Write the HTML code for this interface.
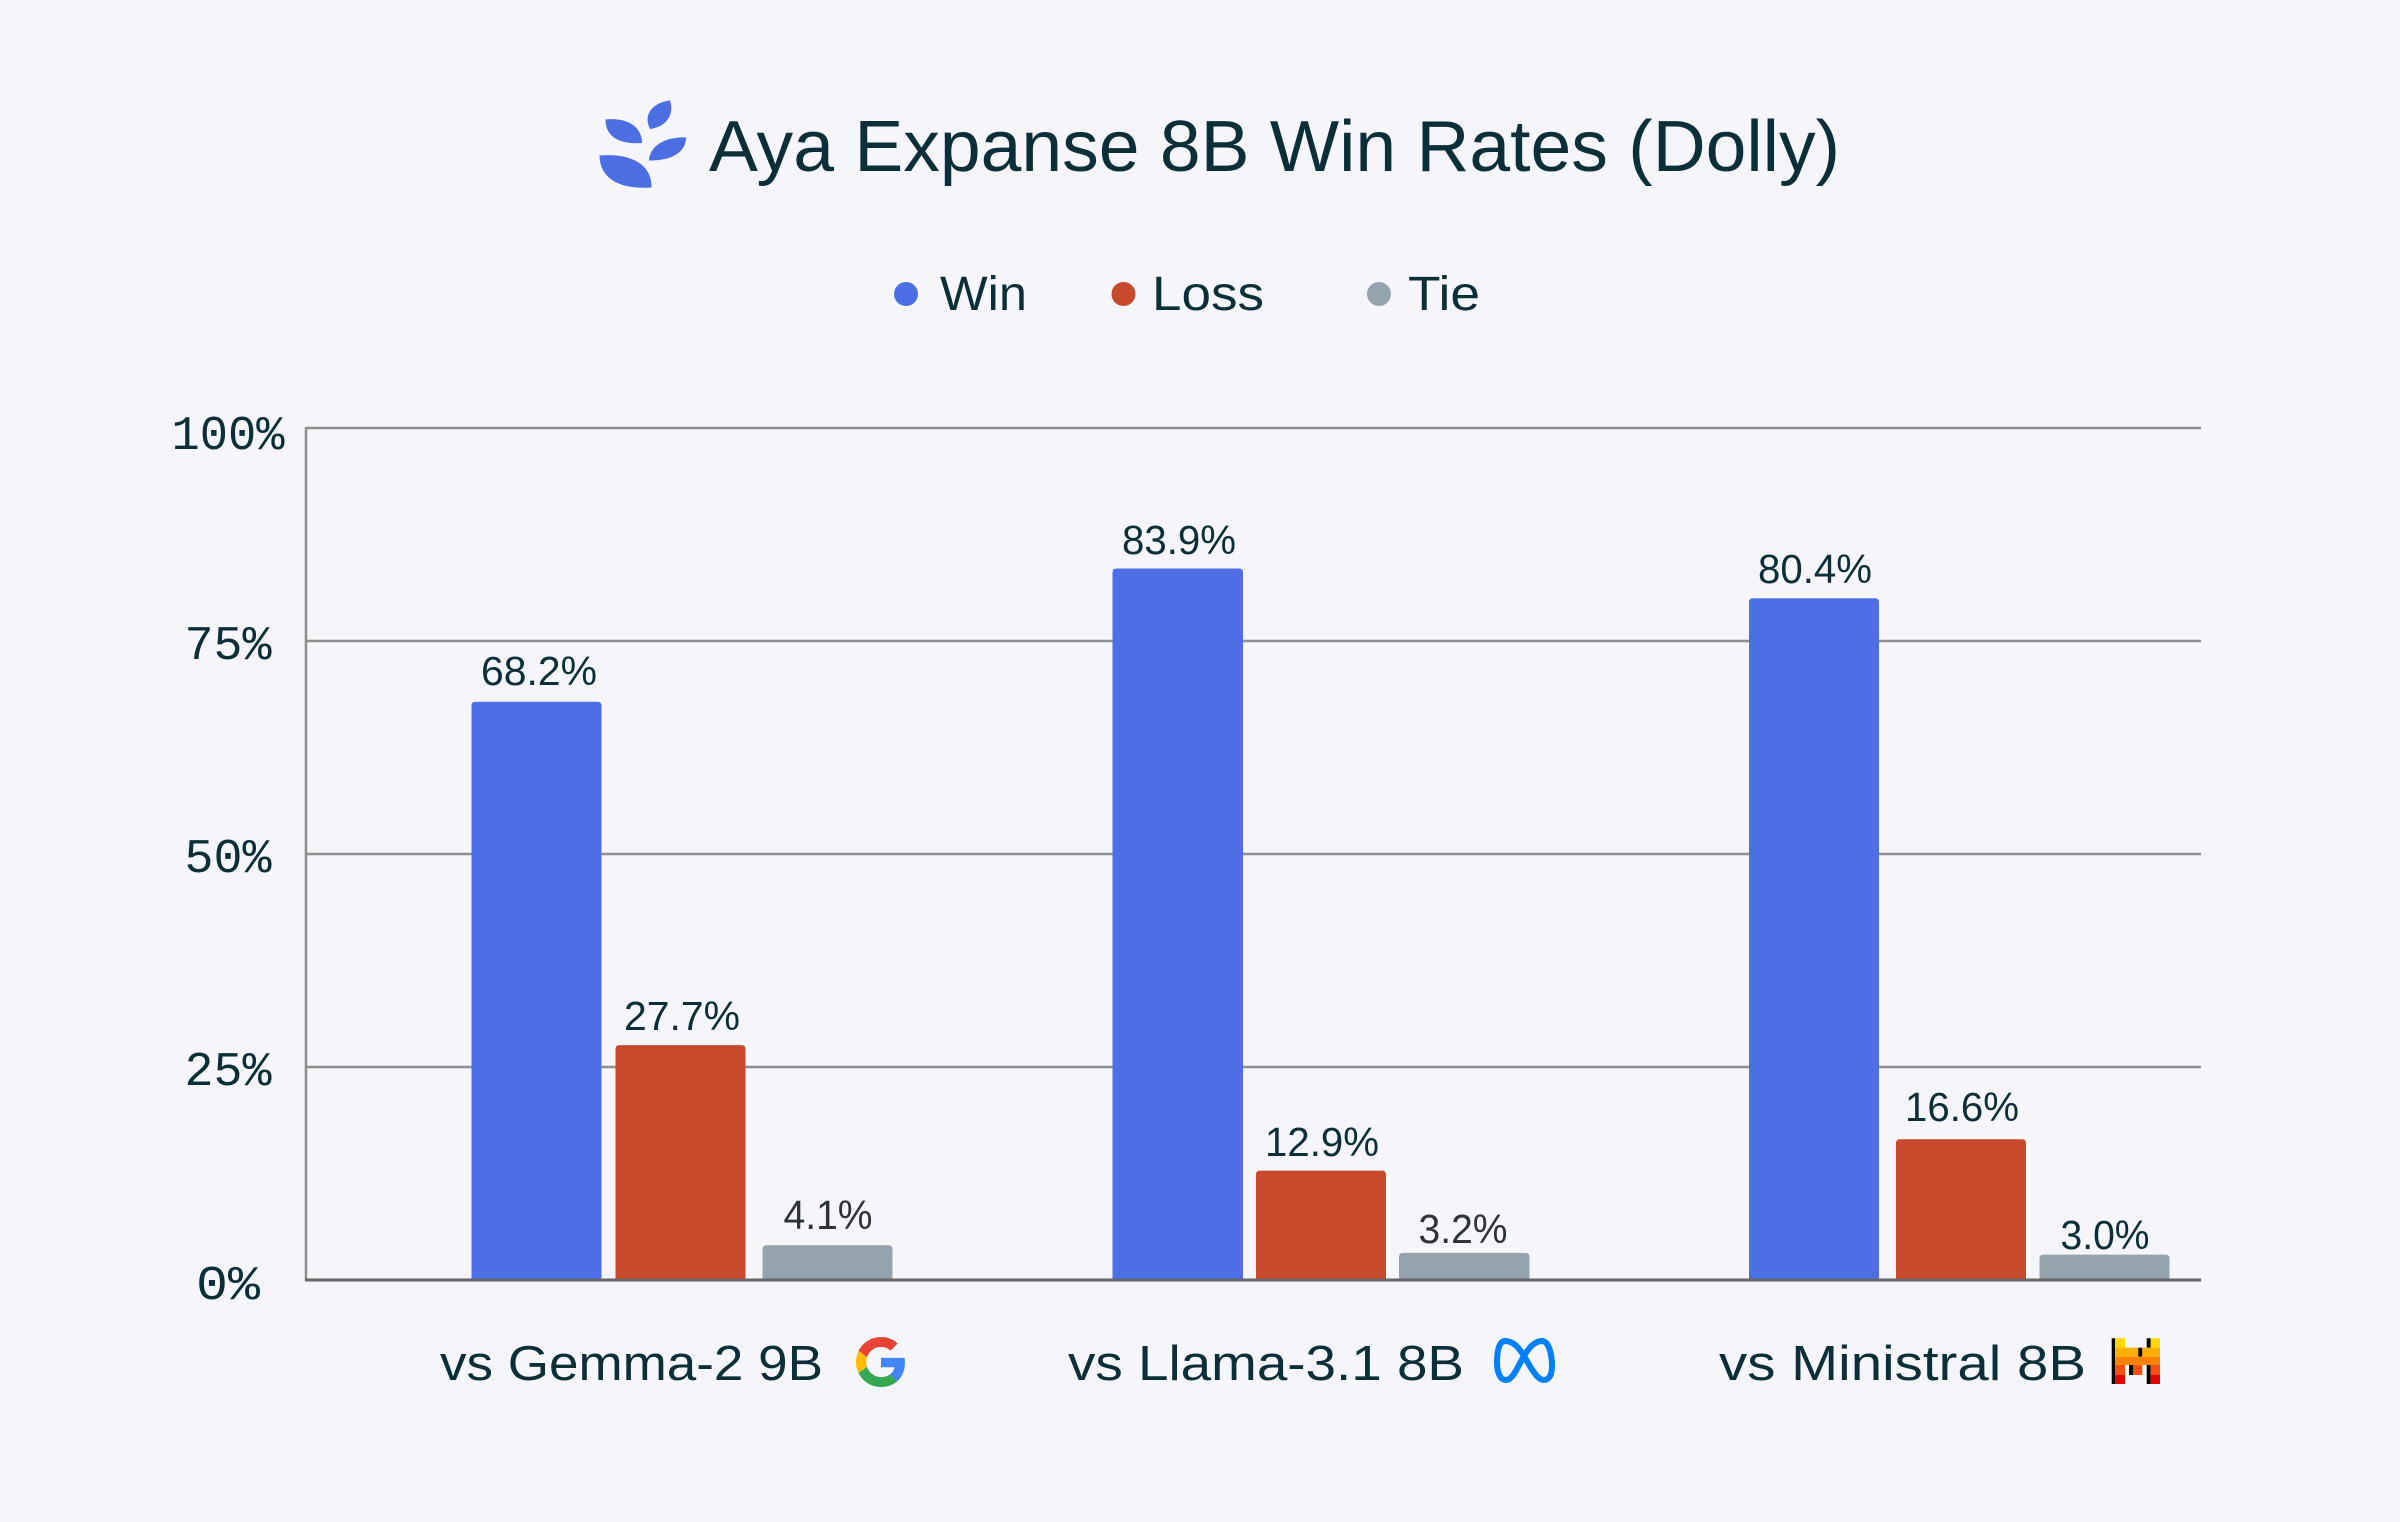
<!DOCTYPE html>
<html>
<head>
<meta charset="utf-8">
<style>
html,body{margin:0;padding:0;background:#f5f5fa;}
svg{display:block;}
</style>
</head>
<body>
<svg width="2400" height="1522" viewBox="0 0 2400 1522" xmlns="http://www.w3.org/2000/svg">
<rect x="0" y="0" width="2400" height="1522" fill="#f5f5fa"/>

<!-- Aya icon -->
<g fill="#4b6fe3">
<path d="M650,129 C642,113 655,102 670,100.5 C675,116 665,127 650,129 Z"/>
<path d="M605.5,119.5 C625,117.5 642,125 642,143 C621,144.5 605.5,138 605.5,119.5 Z"/>
<path d="M649,160.5 C649.5,144.5 668,136.5 686,137.5 C686,153 670,161 649,160.5 Z"/>
<path d="M599.5,155.5 C627,153 652,162 651.5,187.5 C623,189.5 600,181 599.5,155.5 Z"/>
</g>

<!-- Title -->
<text x="709" y="171" font-family="'Liberation Sans', sans-serif" font-size="72" fill="#0b2f38" textLength="1131" lengthAdjust="spacingAndGlyphs">Aya Expanse 8B Win Rates (Dolly)</text>

<!-- Legend -->
<circle cx="906" cy="294" r="12" fill="#4c6fe6"/>
<text x="940" y="310" font-family="'Liberation Sans', sans-serif" font-size="48" fill="#0b2f38" textLength="87" lengthAdjust="spacingAndGlyphs">Win</text>
<circle cx="1123.5" cy="294" r="12" fill="#c84a2d"/>
<text x="1152" y="310" font-family="'Liberation Sans', sans-serif" font-size="48" fill="#0b2f38" textLength="112" lengthAdjust="spacingAndGlyphs">Loss</text>
<circle cx="1379" cy="294" r="12" fill="#94a3ae"/>
<text x="1408" y="310" font-family="'Liberation Sans', sans-serif" font-size="48" fill="#0b2f38" textLength="72" lengthAdjust="spacingAndGlyphs">Tie</text>

<!-- Gridlines -->
<g stroke="#8e8e8e" stroke-width="2.5">
<line x1="306" y1="428" x2="2201" y2="428"/>
<line x1="306" y1="641" x2="2201" y2="641"/>
<line x1="306" y1="854" x2="2201" y2="854"/>
<line x1="306" y1="1067" x2="2201" y2="1067"/>
<line x1="306" y1="427" x2="306" y2="1281"/>
</g>

<!-- Y tick labels -->
<g font-family="'Liberation Mono', monospace" font-size="48" fill="#0b2f38" text-anchor="middle">
<text x="228" y="449" textLength="113" lengthAdjust="spacingAndGlyphs">100%</text>
<text x="228" y="659" textLength="87" lengthAdjust="spacingAndGlyphs">75%</text>
<text x="228" y="872" textLength="87" lengthAdjust="spacingAndGlyphs">50%</text>
<text x="228" y="1085" textLength="87" lengthAdjust="spacingAndGlyphs">25%</text>
<text x="228" y="1299" textLength="64" lengthAdjust="spacingAndGlyphs">0%</text>
</g>

<!-- Bars -->
<g>
<path d="M471.5,1280 V705.7 Q471.5,701.7 475.5,701.7 H597.5 Q601.5,701.7 601.5,705.7 V1280 Z" fill="#4c6fe6"/>
<path d="M615.5,1280 V1049.1 Q615.5,1045.1 619.5,1045.1 H741.5 Q745.5,1045.1 745.5,1049.1 V1280 Z" fill="#c84a2d"/>
<path d="M762.5,1280 V1249.2 Q762.5,1245.2 766.5,1245.2 H888.5 Q892.5,1245.2 892.5,1249.2 V1280 Z" fill="#94a3ae"/>
<path d="M1112.5,1280 V572.5 Q1112.5,568.5 1116.5,568.5 H1239 Q1243,568.5 1243,572.5 V1280 Z" fill="#4c6fe6"/>
<path d="M1256,1280 V1174.6 Q1256,1170.6 1260,1170.6 H1382 Q1386,1170.6 1386,1174.6 V1280 Z" fill="#c84a2d"/>
<path d="M1399,1280 V1256.9 Q1399,1252.9 1403,1252.9 H1525.5 Q1529.5,1252.9 1529.5,1256.9 V1280 Z" fill="#94a3ae"/>
<path d="M1749,1280 V602.2 Q1749,598.2 1753,598.2 H1875 Q1879,598.2 1879,602.2 V1280 Z" fill="#4c6fe6"/>
<path d="M1896,1280 V1143.2 Q1896,1139.2 1900,1139.2 H2022 Q2026,1139.2 2026,1143.2 V1280 Z" fill="#c84a2d"/>
<path d="M2039.5,1280 V1258.6 Q2039.5,1254.6 2043.5,1254.6 H2165.5 Q2169.5,1254.6 2169.5,1258.6 V1280 Z" fill="#94a3ae"/>
</g>

<!-- Baseline axis -->
<line x1="305" y1="1280" x2="2201" y2="1280" stroke="#666666" stroke-width="3"/>

<!-- Value labels -->
<g font-family="'Liberation Sans', sans-serif" font-size="41" fill="#0b2f38" text-anchor="middle">
<text x="539" y="685" textLength="116" lengthAdjust="spacingAndGlyphs">68.2%</text>
<text x="682" y="1030" textLength="116" lengthAdjust="spacingAndGlyphs">27.7%</text>
<text x="828" y="1229" textLength="89" lengthAdjust="spacingAndGlyphs" fill="#2e3336">4.1%</text>
<text x="1179" y="554" textLength="114" lengthAdjust="spacingAndGlyphs">83.9%</text>
<text x="1322" y="1156" textLength="114" lengthAdjust="spacingAndGlyphs">12.9%</text>
<text x="1463" y="1243" textLength="89" lengthAdjust="spacingAndGlyphs" fill="#2e3336">3.2%</text>
<text x="1815" y="583" textLength="114" lengthAdjust="spacingAndGlyphs">80.4%</text>
<text x="1962" y="1121" textLength="114" lengthAdjust="spacingAndGlyphs">16.6%</text>
<text x="2105" y="1249" textLength="89" lengthAdjust="spacingAndGlyphs">3.0%</text>
</g>

<!-- X labels -->
<g font-family="'Liberation Sans', sans-serif" font-size="49" fill="#0b2f38">
<text x="440" y="1380" textLength="383" lengthAdjust="spacingAndGlyphs">vs Gemma-2 9B</text>
<text x="1068" y="1380" textLength="396" lengthAdjust="spacingAndGlyphs">vs Llama-3.1 8B</text>
<text x="1719" y="1380" textLength="367" lengthAdjust="spacingAndGlyphs">vs Ministral 8B</text>
</g>

<!-- Google G -->
<g transform="translate(856,1337) scale(1.042)">
<path fill="#EA4335" d="M24 9.5c3.54 0 6.71 1.22 9.21 3.6l6.85-6.85C35.9 2.38 30.47 0 24 0 14.62 0 6.51 5.38 2.56 13.22l7.98 6.19C12.43 13.72 17.74 9.5 24 9.5z"/>
<path fill="#4285F4" d="M46.98 24.55c0-1.57-.15-3.09-.38-4.55H24v9.02h12.94c-.58 2.96-2.26 5.48-4.78 7.18l7.73 6c4.51-4.18 7.09-10.36 7.09-17.65z"/>
<path fill="#FBBC05" d="M10.53 28.59c-.48-1.45-.76-2.99-.76-4.59s.27-3.14.76-4.59l-7.98-6.19C.92 16.46 0 20.12 0 24c0 3.88.92 7.54 2.56 10.78l7.97-6.19z"/>
<path fill="#34A853" d="M24 48c6.48 0 11.93-2.13 15.89-5.81l-7.73-6c-2.15 1.45-4.92 2.3-8.16 2.3-6.26 0-11.57-4.22-13.47-9.91l-7.98 6.19C6.51 42.62 14.62 48 24 48z"/>
</g>

<!-- Meta infinity -->
<path d="M1524,1356 C1517,1344 1510,1341 1505,1341 C1499,1341 1497,1352 1497,1362 C1497,1372 1500,1380 1506,1380 C1513,1380 1518,1366 1524,1356 C1531,1344 1537,1341 1542,1341 C1549,1341 1552,1355 1552,1366 C1552,1375 1549,1380 1544,1380 C1537,1380 1531,1368 1524,1356 Z" fill="none" stroke="#0081fb" stroke-width="6" stroke-linejoin="round"/>

<!-- Mistral M -->
<g>
<rect x="2111.7" y="1338.3" width="3.3" height="45.7" fill="#000"/>
<rect x="2115" y="1338.3" width="10" height="9.4" fill="#ffd800"/>
<rect x="2146.7" y="1338.3" width="4" height="9.4" fill="#000"/>
<rect x="2150.7" y="1338.3" width="9.3" height="9.4" fill="#ffd800"/>
<rect x="2115" y="1347.7" width="23.3" height="9" fill="#ffaf00"/>
<rect x="2138.3" y="1347.7" width="4" height="9" fill="#000"/>
<rect x="2142.3" y="1347.7" width="17.7" height="9" fill="#ffaf00"/>
<rect x="2115" y="1356.7" width="45" height="8.3" fill="#ff8205"/>
<rect x="2115" y="1365" width="10" height="10" fill="#fa500f"/>
<rect x="2129" y="1365" width="4.3" height="10" fill="#000"/>
<rect x="2133.3" y="1365" width="9" height="10" fill="#fa500f"/>
<rect x="2146.7" y="1365" width="4" height="19" fill="#000"/>
<rect x="2150.7" y="1365" width="9.3" height="10" fill="#fa500f"/>
<rect x="2115" y="1375" width="10" height="9" fill="#e10500"/>
<rect x="2150.7" y="1375" width="9.3" height="9" fill="#e10500"/>
</g>
</svg>
</body>
</html>
